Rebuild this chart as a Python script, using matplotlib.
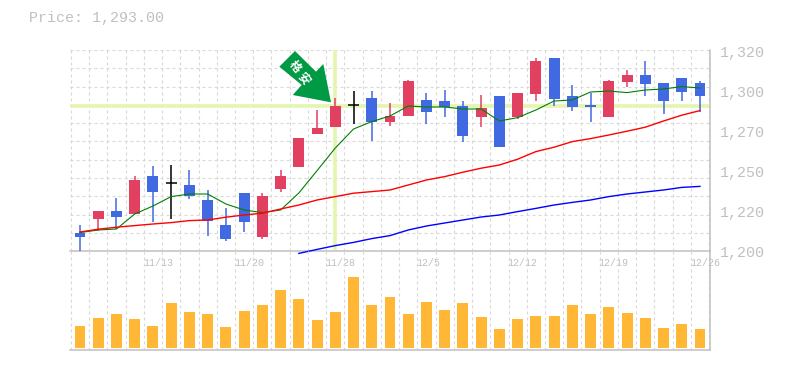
import matplotlib
matplotlib.use("Agg")
import matplotlib.pyplot as plt
from matplotlib.patches import Polygon

plt.rcParams['font.family'] = ['Liberation Mono', 'Noto Sans CJK JP', 'DejaVu Sans']

# daily prices
opens = [1229.5, 1236.5, 1240.5, 1239, 1258, 1254.5, 1253.5, 1246, 1233.5, 1249.5,
         1227.5, 1251.5, 1262.5, 1279, 1282.5, 1293.5, 1297, 1285, 1288, 1296,
         1295.5, 1293, 1287.5, 1298, 1287.5, 1299, 1317, 1298, 1293.5, 1287.5,
         1305, 1308.5, 1304.5, 1307, 1304.5]
closes = [1227.5, 1240.5, 1237.5, 1256, 1250, 1254.5, 1248, 1235.5, 1226.5, 1235,
          1248, 1258, 1277, 1282, 1293, 1293.5, 1285, 1288, 1305.5, 1290,
          1292.5, 1278, 1292, 1272.5, 1299.5, 1315.5, 1296.5, 1292.5, 1292.5, 1305.5,
          1308.5, 1304, 1295.5, 1300, 1298]
highs = [1233.5, 1240.5, 1247, 1258, 1263, 1263.5, 1261, 1251, 1242, 1249.5,
         1249.5, 1261, 1277, 1291, 1297, 1300.5, 1300.5, 1294.5, 1306, 1299.5,
         1301, 1295.5, 1298.5, 1298, 1299.5, 1317, 1317, 1303.5, 1299.5, 1306,
         1311, 1315.5, 1304.5, 1307, 1305.5]
lows = [1220.5, 1230.5, 1231.5, 1239, 1235, 1236.5, 1246.5, 1228, 1225.5, 1230,
        1226.5, 1250, 1262.5, 1279, 1282.5, 1284, 1275.5, 1283, 1288, 1284,
        1287.5, 1275, 1282.5, 1272.5, 1286.5, 1295.5, 1293, 1290.5, 1285, 1287.5,
        1302.5, 1298, 1289, 1295.5, 1290]
volumes = [22, 30, 34, 29, 22, 45, 36, 34, 21, 37,
           43, 58, 49, 28, 36, 71, 43, 51, 34, 46,
           38, 45, 31, 19, 29, 32, 32, 43, 34, 41,
           35, 30, 20, 24, 19]

# moving averages
ma_short = [1229.7, 1231, 1231.5, 1239, 1243, 1247.7, 1249, 1249, 1244, 1241,
            1239.7, 1241, 1249.5, 1260.7, 1272, 1281.5, 1285.2, 1288, 1293, 1292.5,
            1292.5, 1291.5, 1291.5, 1285.5, 1287.2, 1291, 1295.5, 1296, 1300, 1300.5,
            1299.7, 1301, 1301.5, 1302.7, 1302]
ma_mid = [1230, 1231.4, 1232.4, 1233.2, 1234, 1234.7, 1235.7, 1236, 1237.4, 1238.5,
          1239.4, 1241.5, 1243.5, 1246, 1247.7, 1249.4, 1250.2, 1251, 1253.5, 1256,
          1257.7, 1259.9, 1261.9, 1263.5, 1266.4, 1270.2, 1272.4, 1275.2, 1276.7, 1278.5,
          1280.4, 1282.4, 1285.5, 1288.4, 1290.7]
ma_long = [1219.3, 1221.3, 1223.2, 1224.8, 1226.7, 1228.2, 1231, 1233, 1234.5, 1236,
           1237.5, 1238.5, 1240.2, 1241.8, 1243.5, 1244.8, 1246, 1247.7, 1249, 1250,
           1251, 1252.3, 1252.8]
ma_long_start = 12

date_labels = ['11/13', '11/20', '11/28', '12/5', '12/12', '12/19', '12/26']
date_idx = [4, 9, 14, 19, 24, 29, 34]
price_ticks = [1320, 1300, 1280, 1260, 1240, 1220]
price_labels = ['1,320', '1,300', '1,270', '1,250', '1,220', '1,200']
current_price = 1293
current_idx = 14

W, H = 785, 370
GREY = '#c0c0c0'
GRID = '#d8d8d8'
UP = '#e14060'
DOWN = '#4169e1'
DASH = (0, (2.7, 2.7))

fig = plt.figure(figsize=(W / 100, H / 100), dpi=100)
ax = fig.add_axes([70 / W, 1 - 251 / H, 640 / W, 201 / H])
ax2 = fig.add_axes([70 / W, 1 - 350 / H, 640 / W, 99 / H])
xs = list(range(len(opens)))
xlim = (-0.55, 34.55)

for a in (ax, ax2):
    a.set_xlim(xlim)
    a.set_xticks([i - 0.5 for i in xs] + [34.5])
    a.set_xticklabels([])
    a.tick_params(length=0, labelbottom=False, labelleft=False)
    a.grid(axis='x', color=GRID, lw=0.8, ls=DASH)
    a.set_axisbelow(True)
    a.patch.set_alpha(0)
    for s in ('top', 'left', 'bottom'):
        a.spines[s].set_visible(False)
    a.spines['right'].set_color(GREY)
    a.spines['right'].set_linewidth(1.1)

# price panel
ax.set_ylim(1220.5, 1321)
ax.set_yticks([1321 - i * 9.14 for i in range(11)])
ax.set_yticklabels([])
ax.grid(axis='y', color=GRID, lw=0.8, ls=DASH)
ax.spines['bottom'].set_visible(True)
ax.spines['bottom'].set_color(GREY)
ax.spines['bottom'].set_linewidth(1.1)

ax.axhline(current_price, color='#e4f5b0', lw=2.6, zorder=1)
ax.axvline(current_idx, color='#e4f5b0', lw=2.6, ymin=0.015, zorder=1)

for i in xs:
    if opens[i] == closes[i]:
        col = 'black'
    elif closes[i] > opens[i]:
        col = UP
    else:
        col = DOWN
    ax.vlines(i, lows[i], highs[i], color=col, lw=1.1, zorder=3)
    if col == 'black':
        ax.hlines(closes[i], i - 0.3, i + 0.3, color=col, lw=1.1, zorder=3)
    else:
        ax.bar(i, abs(closes[i] - opens[i]), bottom=min(opens[i], closes[i]), width=0.6,
               color=col, zorder=3)

ax.plot(xs, ma_short, color='#008000', lw=0.8, zorder=4)
ax.plot(xs, ma_mid, color='#ff0000', lw=1.0, zorder=4)
ax.plot(range(ma_long_start, len(opens)), ma_long, color='#0000ff', lw=1.0, zorder=4, clip_on=False)

# volume panel
ax2.set_ylim(-2, 97)
ax2.bar(xs, volumes, width=0.6, color='#ffb735', zorder=3)
ax2.spines['bottom'].set_visible(True)
ax2.spines['bottom'].set_color(GREY)
ax2.spines['bottom'].set_linewidth(1.1)

# text
px = lambda x, y: (x / W, 1 - y / H)
fig.text(*px(29, 18), 'Price: 1,293.00', color=GREY, fontsize=10.8, va='center', ha='left')
for pos, lab in zip(price_ticks, price_labels):
    y_px = 52 + (1320 - pos) * 2
    fig.text(*px(720, y_px + 1), lab, color=GREY, fontsize=10.8, va='center', ha='left')
for i, lab in zip(date_idx, date_labels):
    ax.text(i - 0.55, -0.06, lab, color=GREY, fontsize=7.2, va='center', ha='left',
            transform=ax.get_xaxis_transform())

# arrow marker
arrow_px = [(295, 51), (279.3, 66.7), (301.7, 85), (292.7, 95), (331, 102.3), (323.3, 64), (316, 71.7)]
fig.add_artist(Polygon([px(*p) for p in arrow_px], closed=True, color='#009944',
                       transform=fig.transFigure, zorder=5, lw=0))
for (cx, cy), ch in zip([(295, 66.5), (304, 78)], '格安'):
    fig.text(*px(cx, cy), ch, color='white', fontsize=8.5, fontweight='bold', rotation=-50,
             va='center', ha='center', rotation_mode='anchor', family=['Noto Sans CJK JP'], zorder=6)

fig.savefig('out.png', dpi=100)
